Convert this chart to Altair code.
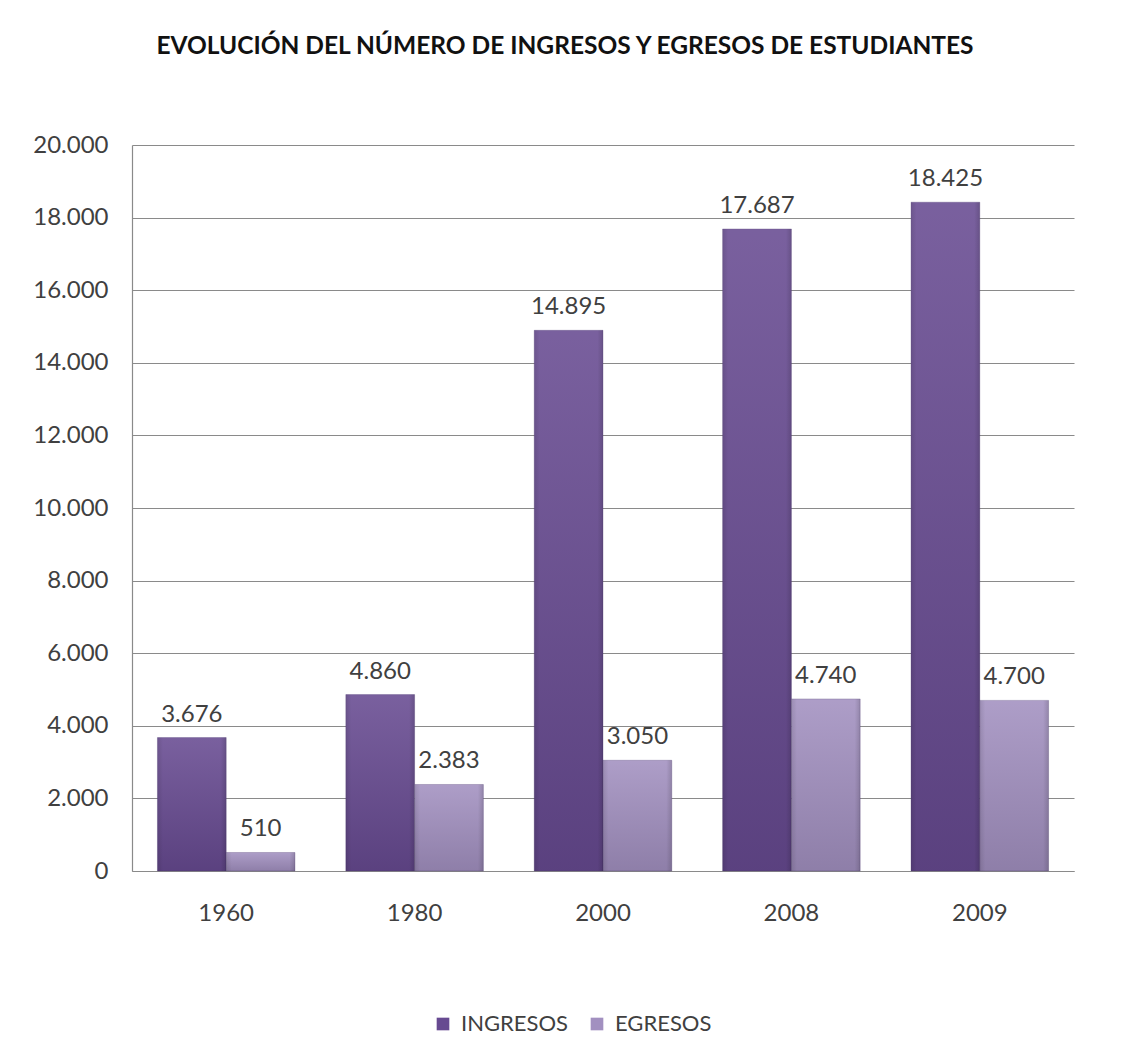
import altair as alt
import pandas as pd

years = ["1960", "1980", "2000", "2008", "2009"]
ingresos = [3676, 4860, 14895, 17687, 18425]
egresos = [510, 2383, 3050, 4740, 4700]
series = ["INGRESOS", "EGRESOS"]
colors = ["#674A91", "#A290C0"]
title_text = "EVOLUCIÓN DEL NÚMERO DE INGRESOS Y EGRESOS DE ESTUDIANTES"

rows = []
for i, y in enumerate(years):
    rows.append({"year": y, "serie": series[0], "valor": ingresos[i]})
    rows.append({"year": y, "serie": series[1], "valor": egresos[i]})
df = pd.DataFrame(rows)

FONT = "Lato"
TXT = "#404040"

base = alt.Chart(df).transform_calculate(
    lbl="replace(format(datum.valor, ','), ',', '.')",
)

x = alt.X(
    "year:N",
    sort=years,
    title=None,
    scale=alt.Scale(paddingInner=0.27, paddingOuter=0.135),
    axis=alt.Axis(
        labelAngle=0,
        labelFontSize=24,
        labelColor=TXT,
        labelFont=FONT,
        labelPadding=30,
        ticks=False,
        domainColor="#8a8a8a",
        domainWidth=1.2,
        grid=False,
    ),
)
y = alt.Y(
    "valor:Q",
    title=None,
    scale=alt.Scale(domain=[0, 20000]),
    axis=alt.Axis(
        values=list(range(0, 20001, 2000)),
        labelExpr="replace(format(datum.value, ','), ',', '.')",
        labelFontSize=24,
        labelColor=TXT,
        labelFont=FONT,
        labelPadding=24,
        ticks=False,
        domainColor="#8a8a8a",
        domainWidth=1.2,
        gridColor="#8a8a8a",
        gridWidth=1.2,
    ),
)
xoff = alt.XOffset("serie:N", sort=series, scale=alt.Scale(paddingInner=0, paddingOuter=0))

bars = base.mark_bar(stroke="#4a3570", strokeWidth=0.6, strokeOpacity=0.5).encode(
    x=x,
    xOffset=xoff,
    y=y,
    color=alt.Color(
        "serie:N",
        sort=series,
        scale=alt.Scale(domain=series, range=colors),
        legend=alt.Legend(
            title=None,
            orient="none",
            direction="horizontal",
            legendX=300,
            legendY=868,
            symbolType="square",
            symbolSize=160,
            symbolStrokeWidth=0,
            labelFontSize=22,
            labelFont=FONT,
            labelColor=TXT,
            columnPadding=18,
            labelOffset=7,
        ),
    ),
)

shade_v = base.mark_bar(
    fill=alt.Gradient(
        gradient="linear",
        x1=0, y1=0, x2=0, y2=1,
        stops=[
            alt.GradientStop(color="rgba(255,255,255,0.12)", offset=0),
            alt.GradientStop(color="rgba(0,0,0,0.12)", offset=1),
        ],
    )
).encode(x=x, xOffset=xoff, y=y)

shade_h = base.mark_bar(
    fill=alt.Gradient(
        gradient="linear",
        x1=0, y1=0, x2=1, y2=0,
        stops=[
            alt.GradientStop(color="rgba(0,0,0,0.10)", offset=0),
            alt.GradientStop(color="rgba(0,0,0,0)", offset=0.08),
            alt.GradientStop(color="rgba(0,0,0,0)", offset=0.92),
            alt.GradientStop(color="rgba(0,0,0,0.14)", offset=1),
        ],
    )
).encode(x=x, xOffset=xoff, y=y)

labels = base.mark_text(
    baseline="bottom", dy=-11, fontSize=24, font=FONT, color=TXT
).encode(
    x=x,
    xOffset=xoff,
    y=y,
    text="lbl:N",
)

chart = (
    alt.layer(bars, shade_v, shade_h, labels)
    .properties(
        width=942,
        height=726,
        view=alt.ViewBackground(strokeWidth=0, strokeOpacity=0),
        autosize=alt.AutoSizeParams(type="none"),
        padding={"left": 124, "top": 137, "right": 48, "bottom": 180},
        title=alt.TitleParams(
            title_text,
            fontSize=24.5,
            font=FONT,
            fontWeight="bold",
            color="#111111",
            anchor="middle",
            offset=74,
            dx=-38,
        ),
    )
    .configure_view(stroke="transparent", strokeWidth=0, strokeOpacity=0)
    .configure(background="white")
)

chart.save("out.html", embed_options={"renderer": "svg", "actions": False})
